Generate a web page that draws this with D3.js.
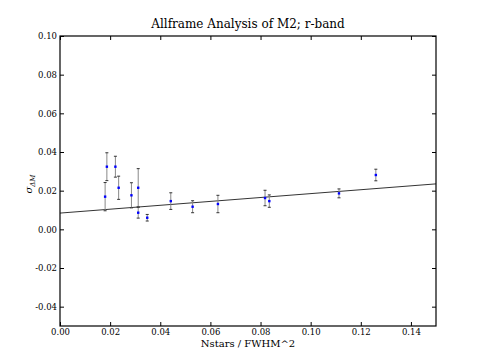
<!DOCTYPE html>
<html>
<head>
<meta charset="utf-8">
<script src="https://cdn.jsdelivr.net/npm/d3@7"></script>
<style>
  body { margin: 0; background: #fff; }
  text { font-family: "DejaVu Serif", serif; fill: #000; }
</style>
</head>
<body>
<div id="chart"></div>
<script>
// data
var nstars = [0.0180, 0.0187, 0.0221, 0.0234, 0.0285, 0.0312, 0.0312, 0.0348,
              0.0442, 0.0529, 0.0630, 0.0818, 0.0835, 0.1113, 0.1260];
var sigma  = [0.0169, 0.0324, 0.0324, 0.0215, 0.0176, 0.0215, 0.0086, 0.0060,
              0.0146, 0.0117, 0.0131, 0.0162, 0.0146, 0.0186, 0.0281];
var sigmaErr = [0.0073, 0.0072, 0.0054, 0.0060, 0.0065, 0.0099, 0.0028, 0.0017,
                0.0043, 0.0031, 0.0045, 0.0040, 0.0032, 0.0023, 0.0030];
// fitted line: intercept, slope
var fitLine = [0.0084, 0.1007];
var xTicks = [0.00, 0.02, 0.04, 0.06, 0.08, 0.10, 0.12, 0.14];
var yTicks = [-0.04, -0.02, 0.00, 0.02, 0.04, 0.06, 0.08, 0.10];

var width = 485, height = 363;
var plotL = 60, plotR = 436, plotT = 36, plotB = 326;

var svg = d3.select('#chart').append('svg')
  .attr('width', width)
  .attr('height', height);

var x = d3.scaleLinear().domain([0, 0.15]).range([plotL, plotR]);
var y = d3.scaleLinear().domain([-0.05, 0.10]).range([plotB, plotT]);

//matplotlib style labels with a plain hyphen
var fmt = function(d) { return d.toFixed(2); };

//title
svg.append('text')
  .attr('x', (plotL + plotR) / 2)
  .attr('y', 28)
  .attr('text-anchor', 'middle')
  .style('font-size', '12px')
  .text('Allframe Analysis of M2; r-band');

//axes, ticks pointing inward
var xBottom = svg.append('g')
  .attr('transform', 'translate(0,' + plotB + ')')
  .call(d3.axisBottom(x).tickValues(xTicks).tickSizeInner(-4).tickSizeOuter(0).tickPadding(3)
    .tickFormat(fmt));
var xTop = svg.append('g')
  .attr('transform', 'translate(0,' + plotT + ')')
  .call(d3.axisTop(x).tickValues(xTicks).tickSizeInner(-4).tickSizeOuter(0).tickFormat(''));
var yLeft = svg.append('g')
  .attr('transform', 'translate(' + plotL + ',0)')
  .call(d3.axisLeft(y).tickValues(yTicks).tickSizeInner(-4).tickSizeOuter(0).tickPadding(3)
    .tickFormat(fmt));
var yRight = svg.append('g')
  .attr('transform', 'translate(' + plotR + ',0)')
  .call(d3.axisRight(y).tickValues(yTicks).tickSizeInner(-4).tickSizeOuter(0).tickFormat(''));

[xBottom, xTop, yLeft, yRight].forEach(function(g) {
  g.select('.domain').remove();
  g.selectAll('text').style('font-family', '"DejaVu Serif", serif').style('font-size', '8.5px');
  g.selectAll('line').attr('stroke', '#000');
});

//frame
svg.append('rect')
  .attr('x', plotL).attr('y', plotT)
  .attr('width', plotR - plotL).attr('height', plotB - plotT)
  .attr('fill', 'none')
  .attr('stroke', '#000')
  .attr('stroke-width', 1.2);

//fit line
svg.append('line')
  .attr('x1', x(0)).attr('y1', y(fitLine[0]))
  .attr('x2', x(0.15)).attr('y2', y(fitLine[0] + fitLine[1] * 0.15))
  .attr('stroke', '#000')
  .attr('stroke-width', 0.8);

//error bars
var pts = nstars.map(function(d, i) { return {x: d, y: sigma[i], e: sigmaErr[i]}; });
var bars = svg.append('g').selectAll('g').data(pts).enter().append('g');
bars.append('line')
  .attr('x1', function(d) { return x(d.x); })
  .attr('x2', function(d) { return x(d.x); })
  .attr('y1', function(d) { return y(d.y - d.e); })
  .attr('y2', function(d) { return y(d.y + d.e); })
  .attr('stroke', '#888')
  .attr('stroke-width', 1);
[-1, 1].forEach(function(s) {
  bars.append('line')
    .attr('x1', function(d) { return x(d.x) - 1.5; })
    .attr('x2', function(d) { return x(d.x) + 1.5; })
    .attr('y1', function(d) { return y(d.y + s * d.e); })
    .attr('y2', function(d) { return y(d.y + s * d.e); })
    .attr('stroke', '#333')
    .attr('stroke-width', 1);
});

//points
svg.append('g').selectAll('rect').data(pts).enter().append('rect')
  .attr('x', function(d) { return x(d.x) - 1.2; })
  .attr('y', function(d) { return y(d.y) - 1.2; })
  .attr('width', 2.4)
  .attr('height', 2.4)
  .attr('fill', '#0000ff');

//axis labels
svg.append('text')
  .attr('x', (plotL + plotR) / 2)
  .attr('y', 347)
  .attr('text-anchor', 'middle')
  .style('font-size', '10px')
  .text('Nstars / FWHM^2');

var yl = svg.append('text')
  .attr('transform', 'translate(32,' + ((plotT + plotB) / 2 + 3) + ') rotate(-90)')
  .attr('text-anchor', 'middle')
  .style('font-size', '10px')
  .style('font-style', 'italic');
yl.append('tspan').text('σ');
yl.append('tspan').attr('dy', 3).style('font-size', '7px').text('ΔM');
</script>
</body>
</html>
